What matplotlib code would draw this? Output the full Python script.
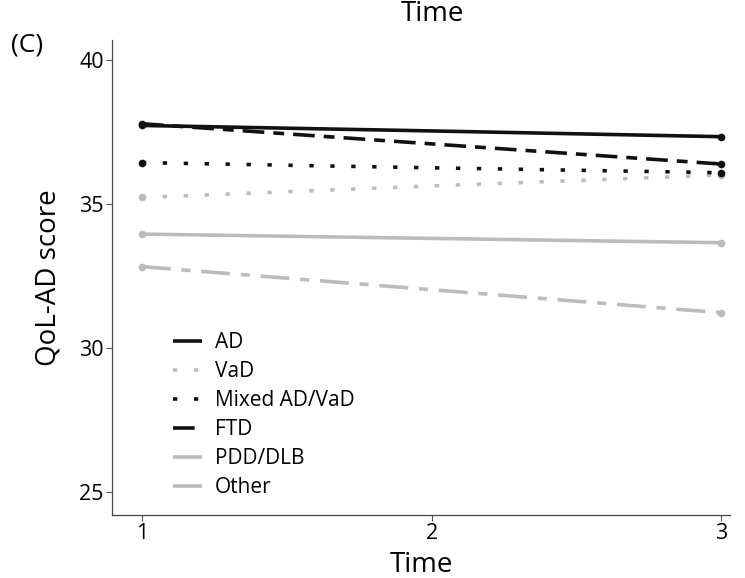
import matplotlib
matplotlib.use("Agg")
import matplotlib.pyplot as plt

plt.rcParams['font.family'] = ['Open Sans', 'DejaVu Sans']

time = [1, 2, 3]
groups = ["AD", "VaD", "Mixed AD/VaD", "FTD", "PDD/DLB", "Other"]
ad = [37.72, 37.53, 37.33]
vad = [35.22, 35.62, 36.0]
mixed = [36.43, 36.25, 36.08]
ftd = [37.78, 37.08, 36.38]
pdd = [32.82, 32.02, 31.22]
other = [33.95, 33.8, 33.65]
yticks = [25, 30, 35, 40]
xticks = [1, 2, 3]

series = [ad, vad, mixed, ftd, pdd, other]
black = '#111111'
grey = '#bcbcbc'
colors = [black, grey, black, black, grey, grey]
dashes = [None, (1.2, 4.6), (1.2, 4.6), (6, 2.5, 3, 2.5), (8, 3, 2.5, 3), None]

fig = plt.figure(figsize=(7.45, 5.78), dpi=100)
ax = fig.add_axes([0.1503, 0.109, 0.98 - 0.1503, 0.931 - 0.109])

for name, vals, c, d in zip(groups, series, colors, dashes):
    line, = ax.plot(time, vals, color=c, lw=2.6, label=name,
                    solid_capstyle='butt', dash_capstyle='butt')
    if d is not None:
        line.set_dashes(d)
    ax.plot([time[0], time[-1]], [vals[0], vals[-1]], 'o', color=c, ms=4.5,
            zorder=3)

ax.set_xlim(0.897, 3.03)
ax.set_ylim(24.2, 40.69)
ax.set_xticks(xticks)
ax.set_yticks(yticks)
ax.tick_params(labelsize=15.5, length=4, width=0.8, color='#555555', pad=2)
for s in ['top', 'right']:
    ax.spines[s].set_visible(False)
for s in ['left', 'bottom']:
    ax.spines[s].set_color('#444444')
    ax.spines[s].set_linewidth(0.9)

ax.set_xlabel('Time', fontsize=20, labelpad=5)
ax.set_ylabel('QoL-AD score', fontsize=20, labelpad=12)

leg = ax.legend(loc='lower left', bbox_to_anchor=(0.075, 0.005), frameon=False,
                fontsize=15, handlelength=1.4, labelspacing=0.38,
                handletextpad=0.6, borderpad=0.2)

fig.text(0.58, 1.0, 'Time', fontsize=20, ha='center', va='top')
fig.text(0.015, 0.922, '(C)', fontsize=19, ha='left', va='center')

fig.savefig('out.png', dpi=100)
